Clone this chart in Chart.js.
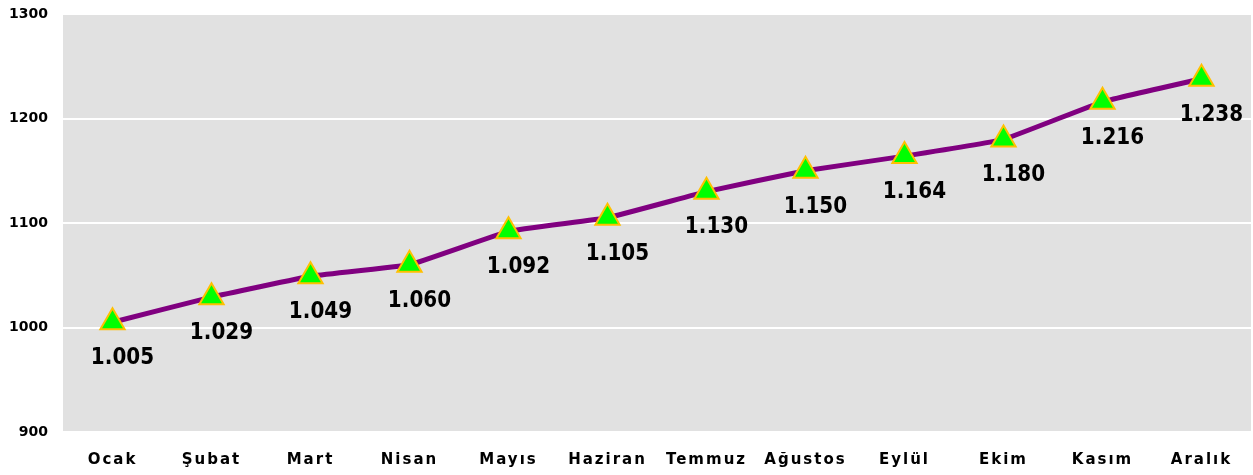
<!DOCTYPE html>
<html>
<head>
<meta charset="utf-8">
<script src="https://cdn.jsdelivr.net/npm/chart.js@4.4.0/dist/chart.umd.min.js"></script>
<style>
  html, body { margin: 0; padding: 0; background: #fff; overflow: hidden; }
  canvas { display: block; }
</style>
</head>
<body>
<canvas id="chart" width="1253" height="475"></canvas>
<script>
// aylar ve değerler
const months = ["Ocak", "Şubat", "Mart", "Nisan", "Mayıs", "Haziran", "Temmuz", "Ağustos", "Eylül", "Ekim", "Kasım", "Aralık"];
const values = [1005, 1029, 1049, 1060, 1092, 1105, 1130, 1150, 1164, 1180, 1216, 1238];
const yTicks = [900, 1000, 1100, 1200, 1300];

// 1005 -> "1.005"
function fmt(v) {
  return String(v).replace(/\B(?=(\d{3})+(?!\d))/g, ".");
}

// gri çizim alanı
const plotBg = {
  id: "plotBg",
  beforeDraw(chart) {
    const { ctx, chartArea: a } = chart;
    ctx.save();
    ctx.fillStyle = "#E1E1E1";
    ctx.fillRect(a.left, a.top, a.right - a.left, a.bottom - a.top);
    ctx.restore();
  }
};

// x etiketlerinde harf aralığı
const spacedX = {
  id: "spacedX",
  afterLayout(chart) {
    const sc = chart.scales.x;
    if (sc._spaced) return;
    const orig = sc.drawLabels;
    sc.drawLabels = function (area) {
      this.ctx.save();
      this.ctx.letterSpacing = "2px";
      orig.call(this, area);
      this.ctx.restore();
    };
    sc._spaced = true;
  }
};

// nokta altındaki değer etiketleri
const valueLabels = {
  id: "valueLabels",
  afterDatasetsDraw(chart) {
    const { ctx } = chart;
    const meta = chart.getDatasetMeta(0);
    ctx.save();
    ctx.font = "bold 20px 'DejaVu Sans'";
    ctx.fillStyle = "#000";
    ctx.textAlign = "center";
    ctx.textBaseline = "middle";
    meta.data.forEach((pt, i) => {
      ctx.save();
      ctx.translate(pt.x + 10, pt.y + 36);
      ctx.scale(1, 1.12);
      ctx.fillText(fmt(values[i]), 0, 0);
      ctx.restore();
    });
    ctx.restore();
  }
};

const ctx = document.getElementById("chart").getContext("2d");
new Chart(ctx, {
  type: "line",
  data: {
    labels: months,
    datasets: [{
      data: values,
      borderColor: "#800080",
      borderWidth: 5,
      tension: 0.08,
      pointStyle: "triangle",
      pointRadius: 14,
      pointBackgroundColor: "#00FF00",
      pointBorderColor: "#FFC000",
      pointBorderWidth: 2,
      fill: false
    }]
  },
  options: {
    responsive: false,
    animation: false,
    events: [],
    layout: { autoPadding: false, padding: { top: 14, right: 2, left: 0, bottom: 0 } },
    plugins: {
      legend: { display: false },
      tooltip: { enabled: false }
    },
    scales: {
      x: {
        offset: true,
        grid: { display: false, drawTicks: false },
        border: { display: false },
        ticks: {
          color: "#000",
          font: { family: "'DejaVu Sans'", size: 15, weight: "bold" },
          padding: 19,
          maxRotation: 0,
          autoSkip: false
        },
        afterFit(s) {
          s.height = 43;
          s.paddingLeft = 0;
          s.paddingRight = 0;
        }
      },
      y: {
        min: 900,
        max: 1300,
        afterBuildTicks(s) { s.ticks = yTicks.map(v => ({ value: v })); },
        grid: { color: "#FFFFFF", lineWidth: 2, drawTicks: false },
        border: { display: false },
        ticks: {
          color: "#000",
          font: { family: "'DejaVu Sans'", size: 14, weight: "bold" },
          padding: 15,
          callback: v => String(v)
        },
        afterFit(s) {
          s.width = 63;
          s.paddingTop = 0;
          s.paddingBottom = 0;
        }
      }
    }
  },
  plugins: [plotBg, spacedX, valueLabels]
});
</script>
</body>
</html>
